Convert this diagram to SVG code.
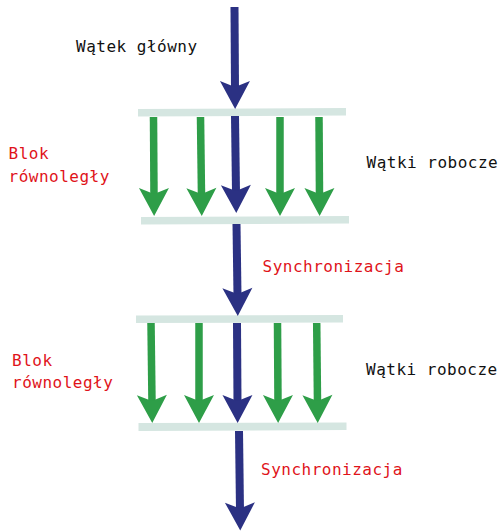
<svg xmlns="http://www.w3.org/2000/svg" width="504" height="531" viewBox="0 0 504 531">
  <style>
    .bar { fill: #d5e6e1; }
    .blue { stroke: #2b3183; stroke-width: 8; fill: none; marker-end: url(#hb); }
    .green { stroke: #2e9e48; stroke-width: 7.5; fill: none; marker-end: url(#hg); }
    .lbl { font-family: "DejaVu Sans Mono", "Liberation Mono", monospace; font-size: 16px; letter-spacing: 0.5px; }
    .red { fill: #e0131a; }
    .blk { fill: #111111; }
  </style>
  <defs>
    <marker id="hb" markerUnits="userSpaceOnUse" viewBox="0 -15 28 30" markerWidth="28" markerHeight="30" refX="8" refY="0" orient="auto" overflow="visible">
      <path d="M0,-15 L6,0 L0,15 L28,0 Z" fill="#2b3183"/>
    </marker>
    <marker id="hg" markerUnits="userSpaceOnUse" viewBox="0 -15 28 30" markerWidth="28" markerHeight="30" refX="8" refY="0" orient="auto" overflow="visible">
      <path d="M0,-15 L6,0 L0,15 L28,0 Z" fill="#2e9e48"/>
    </marker>
  </defs>

  <g id="bars">
    <polygon id="bar1" class="bar" points="138,109 346,108 346,115.5 138,116.5"/>
    <polygon id="bar2" class="bar" points="141,217 349,216 349,223.5 141,224.5"/>
    <polygon id="bar3" class="bar" points="136,315.5 343,315 343,322.5 136,323"/>
    <polygon id="bar4" class="bar" points="138.5,423 346.5,422.5 346.5,430 138.5,431"/>
  </g>

  <g id="connectors">
    <line class="blue" x1="234.5" y1="7" x2="235" y2="89"/>
    <line class="green" x1="153.5" y1="117" x2="154" y2="196"/>
    <line class="green" x1="200.5" y1="117" x2="201.5" y2="196"/>
    <line class="blue" x1="235" y1="116" x2="236" y2="193"/>
    <line class="green" x1="280" y1="117" x2="280" y2="196"/>
    <line class="green" x1="319" y1="117" x2="319.5" y2="196"/>
    <line class="blue" x1="236.5" y1="224" x2="237.5" y2="296"/>
    <line class="green" x1="151" y1="323" x2="152" y2="403"/>
    <line class="green" x1="199" y1="323" x2="199" y2="403"/>
    <line class="blue" x1="237" y1="323" x2="237.5" y2="403"/>
    <line class="green" x1="277.5" y1="323" x2="278" y2="403"/>
    <line class="green" x1="316.7" y1="323" x2="317.5" y2="403"/>
    <line class="blue" x1="239" y1="431" x2="240" y2="510.5"/>
  </g>

  <g id="labels">
    <text id="main-thread" class="lbl blk" x="76" y="51.7">Wątek główny</text>
    <text id="block1" class="lbl red" x="8.5" y="159">Blok<tspan x="8.5" y="181.5">równoległy</tspan></text>
    <text id="workers1" class="lbl blk" x="366.5" y="168.3">Wątki robocze</text>
    <text id="sync1" class="lbl red" x="262.5" y="272.3">Synchronizacja</text>
    <text id="block2" class="lbl red" x="12" y="365.7">Blok<tspan x="12" y="387.7">równoległy</tspan></text>
    <text id="workers2" class="lbl blk" x="366" y="375">Wątki robocze</text>
    <text id="sync2" class="lbl red" x="261" y="475">Synchronizacja</text>
  </g>
</svg>
